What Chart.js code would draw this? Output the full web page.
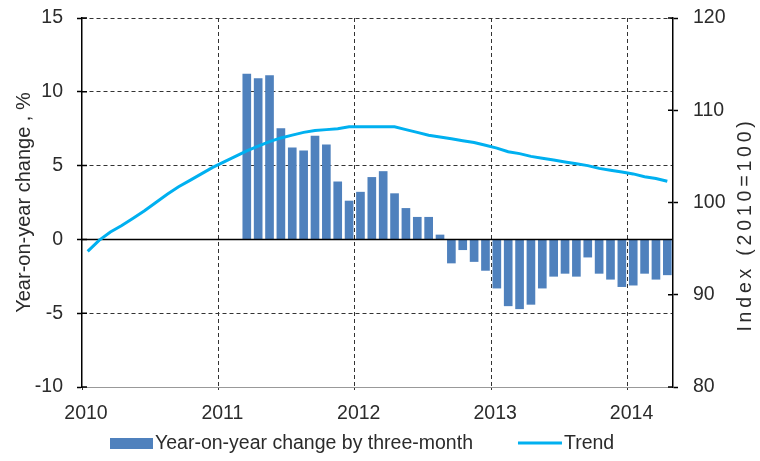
<!DOCTYPE html>
<html>
<head>
<meta charset="utf-8">
<script src="https://cdn.jsdelivr.net/npm/chart.js@4.4.1/dist/chart.umd.min.js"></script>
<style>
html,body{margin:0;padding:0;background:#fff;}
#c{display:block;}
</style>
</head>
<body>
<canvas id="c" width="760" height="461"></canvas>
<script>
// ---------- DATA ----------
const barMonths = [
  '2011-03','2011-04','2011-05','2011-06','2011-07','2011-08','2011-09','2011-10','2011-11','2011-12',
  '2012-01','2012-02','2012-03','2012-04','2012-05','2012-06','2012-07','2012-08','2012-09','2012-10','2012-11','2012-12',
  '2013-01','2013-02','2013-03','2013-04','2013-05','2013-06','2013-07','2013-08','2013-09','2013-10','2013-11','2013-12',
  '2014-01','2014-02','2014-03','2014-04'
];
const barValues = [
  11.2, 10.9, 11.1, 7.5, 6.2, 6.0, 7.0, 6.4, 3.9, 2.6,
  3.2, 4.2, 4.6, 3.1, 2.1, 1.5, 1.5, 0.3, -1.6, -0.7, -1.5, -2.1,
  -3.3, -4.5, -4.7, -4.4, -3.3, -2.5, -2.3, -2.5, -1.2, -2.3, -2.7, -3.2,
  -3.1, -2.3, -2.7, -2.4
];
const trendMonths = [
  '2010-01','2010-02','2010-03','2010-04','2010-05','2010-06','2010-07','2010-08','2010-09','2010-10','2010-11','2010-12',
  '2011-01','2011-02','2011-03','2011-04','2011-05','2011-06','2011-07','2011-08','2011-09','2011-10','2011-11','2011-12',
  '2012-01','2012-02','2012-03','2012-04','2012-05','2012-06','2012-07','2012-08','2012-09','2012-10','2012-11','2012-12',
  '2013-01','2013-02','2013-03','2013-04','2013-05','2013-06','2013-07','2013-08','2013-09','2013-10','2013-11','2013-12',
  '2014-01','2014-02','2014-03','2014-04'
];
const trendValues = [
  94.7, 95.9, 96.8, 97.5, 98.3, 99.1, 100.0, 100.9, 101.7, 102.4, 103.1, 103.8,
  104.4, 105.0, 105.6, 106.1, 106.6, 107.0, 107.3, 107.6, 107.8, 107.9, 108.0, 108.2,
  108.2, 108.2, 108.2, 108.2, 107.9, 107.6, 107.3, 107.1, 106.9, 106.7, 106.5, 106.2,
  105.9, 105.5, 105.3, 105.0, 104.8, 104.6, 104.4, 104.2, 104.0, 103.7, 103.5, 103.3,
  103.1, 102.8, 102.6, 102.3
];
const yearTicks = [2010, 2011, 2012, 2013, 2014];
const leftTicks = [-10, -5, 0, 5, 10, 15];
const rightTicks = [80, 90, 100, 110, 120];
const seriesNames = ['Year-on-year change by three-month', 'Trend'];
const axisTitles = ['Year-on-year change , %', 'Index (2010=100)'];
const xEndMonth = '2014-05';

// ---------- HELPERS ----------
const FONT = '"Liberation Sans", Arial, sans-serif';
const TEXT = '#2b2b2b';
const BAR_COLOR = '#4F81BD';
const LINE_COLOR = '#00B0F0';
function monthStart(s){ const [y,m] = s.split('-').map(Number); return (y - 2010) * 12 + (m - 1); }
function monthMid(s){ return monthStart(s) + 0.5; }
function noPad(s){ s.paddingTop = 0; s.paddingBottom = 0; s.paddingLeft = 0; s.paddingRight = 0; }

Chart.defaults.font.family = FONT;
Chart.defaults.font.size = 19.5;
Chart.defaults.color = TEXT;

const extrasPlugin = {
  id: 'extras',
  afterDatasetDraw(chart, args) {
    if (chart.data.datasets[args.index].type !== 'bar') return;
    const {ctx, chartArea, scales} = chart;
    const y0 = scales.y.getPixelForValue(0);
    ctx.save();
    ctx.strokeStyle = '#000';
    ctx.lineWidth = 1.5;
    ctx.beginPath();
    ctx.moveTo(chartArea.left, y0);
    ctx.lineTo(chartArea.right, y0);
    ctx.stroke();
    ctx.restore();
  },
  afterDraw(chart) {
    const {ctx, chartArea, scales} = chart;
    ctx.save();
    // inner tick marks on both vertical axes
    ctx.strokeStyle = '#000';
    ctx.lineWidth = 1.5;
    ctx.beginPath();
    scales.y.ticks.forEach(t => {
      const p = scales.y.getPixelForValue(t.value);
      ctx.moveTo(chartArea.left, p); ctx.lineTo(chartArea.left + 5, p);
    });
    scales.y1.ticks.forEach(t => {
      const p = scales.y1.getPixelForValue(t.value);
      ctx.moveTo(chartArea.right, p); ctx.lineTo(chartArea.right - 5, p);
    });
    ctx.stroke();

    // right axis title (reads bottom to top)
    ctx.fillStyle = TEXT;
    ctx.font = '19.5px ' + FONT;
    ctx.textAlign = 'center';
    ctx.textBaseline = 'middle';
    ctx.save();
    ctx.translate(scales.y1.right - 14, (chartArea.top + chartArea.bottom) / 2 + 22);
    ctx.rotate(-Math.PI / 2);
    try { ctx.letterSpacing = '3.8px'; } catch (e) {}
    ctx.fillText(axisTitles[1], 0, 0);
    ctx.restore();

    // legend
    ctx.font = '19.5px ' + FONT;
    ctx.textAlign = 'left';
    ctx.textBaseline = 'middle';
    const ly = 444;
    ctx.fillStyle = BAR_COLOR;
    ctx.fillRect(110, 438, 43, 11);
    ctx.fillStyle = TEXT;
    ctx.fillText(seriesNames[0], 155, ly);
    const w1 = ctx.measureText(seriesNames[0]).width;
    const x2 = 155 + w1 + 45;
    ctx.strokeStyle = LINE_COLOR;
    ctx.lineWidth = 3;
    ctx.beginPath();
    ctx.moveTo(x2, 443); ctx.lineTo(x2 + 44, 443);
    ctx.stroke();
    ctx.fillStyle = TEXT;
    ctx.fillText(seriesNames[1], x2 + 46, ly);
    ctx.restore();
  }
};

new Chart(document.getElementById('c'), {
  type: 'bar',
  data: {
    datasets: [
      {
        type: 'line',
        label: seriesNames[1],
        data: trendMonths.map((m, i) => ({x: monthMid(m), y: trendValues[i]})),
        xAxisID: 'x', yAxisID: 'y1',
        borderColor: LINE_COLOR, backgroundColor: LINE_COLOR,
        borderWidth: 3, pointRadius: 0, tension: 0, fill: false, order: 0
      },
      {
        type: 'bar',
        label: seriesNames[0],
        data: barMonths.map((m, i) => ({x: monthMid(m), y: barValues[i]})),
        xAxisID: 'x', yAxisID: 'y',
        backgroundColor: BAR_COLOR, borderWidth: 0,
        barThickness: 8, order: 1
      }
    ]
  },
  options: {
    responsive: false,
    animation: false,
    devicePixelRatio: 1,
    layout: {padding: {left: 0, right: 0, top: 18, bottom: 34}},
    plugins: {legend: {display: false}, tooltip: {enabled: false}},
    scales: {
      x: {
        type: 'linear',
        min: monthStart(trendMonths[0]), max: monthStart(xEndMonth),
        offset: false,
        afterBuildTicks: s => { s.ticks = yearTicks.map(y => ({value: monthStart(y + '-01')})); },
        afterFit: s => { s.height = 40; noPad(s); },
        grid: {
          offset: false,
          color: c => (c.tick && c.tick.value === 0) ? 'rgba(0,0,0,0)' : '#333',
          lineWidth: 1,
          tickLength: 5, tickColor: '#333', tickBorderDash: [2, 2]
        },
        border: {display: true, color: '#999', width: 1, dash: [4, 3]},
        ticks: {
          callback: v => String(2010 + v / 12),
          padding: 10, labelOffset: 4, maxRotation: 0, autoSkip: false, color: TEXT
        }
      },
      y: {
        position: 'left', min: -10, max: 15,
        afterBuildTicks: s => { s.ticks = leftTicks.map(v => ({value: v})); },
        afterFit: s => { s.width = 82; noPad(s); },
        grid: {
          color: c => (c.tick && (c.tick.value === 0 || c.tick.value === -10)) ? 'rgba(0,0,0,0)' : '#333',
          lineWidth: 1,
          tickLength: 5, tickColor: '#000', tickWidth: 1.5, tickBorderDash: []
        },
        border: {display: true, color: '#000', width: 1.5, dash: [4, 3]},
        ticks: {padding: 14, color: TEXT},
        title: {display: true, text: axisTitles[0], padding: {top: 12, bottom: 0}, font: {size: 20}, color: TEXT}
      },
      y1: {
        position: 'right', min: 80, max: 120,
        afterBuildTicks: s => { s.ticks = rightTicks.map(v => ({value: v})); },
        afterFit: s => { s.width = 87; noPad(s); },
        grid: {drawOnChartArea: false, tickLength: 5, tickColor: '#000', tickWidth: 1.5},
        border: {display: true, color: '#000', width: 1.5},
        ticks: {padding: 15, color: TEXT}
      }
    }
  },
  plugins: [extrasPlugin]
});
</script>
</body>
</html>
